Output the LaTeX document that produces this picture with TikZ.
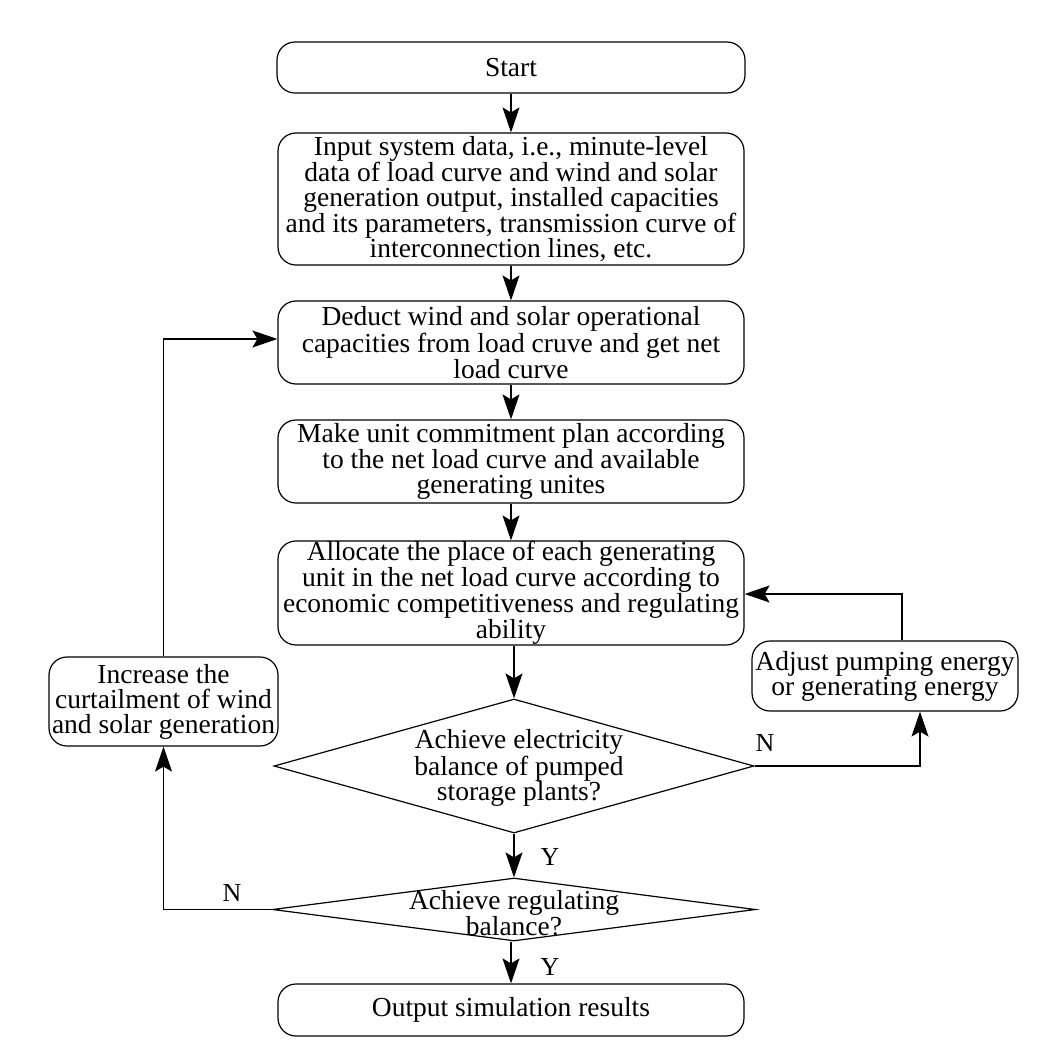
\documentclass[tikz,border=0pt]{standalone}
\usepackage{fontspec}
\setmainfont{Liberation Serif}
\usetikzlibrary{arrows.meta,shapes.geometric}
\begin{document}
\begin{tikzpicture}[x=1pt,y=-1pt,
  every node/.style={font=\fontsize{27.5}{25}\selectfont},
  procbox/.style={draw,rounded corners=18pt,align=center,inner xsep=2pt,inner ysep=0pt,line width=1.2pt},
  decbox/.style={draw,diamond,inner sep=0pt,line width=1.2pt},
  arr/.style={-{Stealth[length=25pt,width=17pt,inset=5pt]},line width=1.2pt},
  lbl/.style={font=\fontsize{26}{26}\selectfont,inner sep=0pt}
]
\useasboundingbox (0,0) rectangle (1040,1053);
\fill[white] (0,0) rectangle (1040,1053);

\node[procbox,minimum width=468pt,minimum height=51pt] (start) at (511,67.5) {Start};
\node[procbox,minimum width=466pt,minimum height=132pt] (input) at (511,199) {Input system data, i.e., minute-level\\ data of load curve and wind and solar\\ generation output, installed capacities\\ and its parameters, transmission curve of\\ interconnection lines, etc.};
\node[procbox,minimum width=466pt,minimum height=83pt] (deduct) at (511,342.5) {Deduct wind and solar operational\\ capacities from load cruve and get net\\ load curve};
\node[procbox,minimum width=466pt,minimum height=83pt] (make) at (511,461.5) {Make unit commitment plan according\\ to the net load curve and available\\ generating unites};
\node[procbox,minimum width=466pt,minimum height=104pt] (alloc) at (511,593) {Allocate the place of each generating\\ unit in the net load curve according to\\ economic competitiveness and regulating\\ ability};
\node[decbox,minimum width=480pt,minimum height=134pt] (d1) at (514,766) {};
\node[align=center,inner sep=0pt] (d1t) at (519,768) {Achieve electricity\\ balance of pumped\\ storage plants?};
\node[decbox,minimum width=483pt,minimum height=63pt] (d2) at (514,909.5) {};
\node[align=center,inner sep=0pt] (d2t) at (514,913) {Achieve regulating\\ balance?};
\node[procbox,minimum width=466pt,minimum height=52pt] (out) at (511,1010) {Output simulation results};
\node[procbox,minimum width=229pt,minimum height=89pt] (inc) at (163.5,701.5) {Increase the\\ curtailment of wind\\ and solar generation};
\node[procbox,minimum width=266pt,minimum height=70pt] (adj) at (885,676) {Adjust pumping energy\\ or generating energy};

\node[lbl] (y1) at (550,857) {Y};
\node[lbl] (y2) at (550,967) {Y};
\node[lbl] (n1) at (765,743) {N};
\node[lbl] (n2) at (232,893) {N};

\draw[arr] (start) -- (input);
\draw[arr] (input) -- (deduct);
\draw[arr] (deduct) -- (make);
\draw[arr] (make) -- (alloc);
\draw[arr] (alloc.south -| d1.north) -- (d1.north);
\draw[arr] (d1.south) -- (d2.north);
\draw[arr] (d2.south -| out.north) -- (out.north);

\coordinate (cN) at (920,766);
\draw[arr] (d1.east) -- (cN) -- (cN |- adj.south);
\coordinate (cA) at (902,594);
\draw[arr] (cA |- adj.north) -- (cA) -- (cA -| alloc.east);
\draw[arr] (d2.west) -| (inc.south);
\coordinate (cD) at (163.5,339);
\draw[arr] (inc.north) -- (cD) -- (cD -| deduct.west);
\end{tikzpicture}
\end{document}
